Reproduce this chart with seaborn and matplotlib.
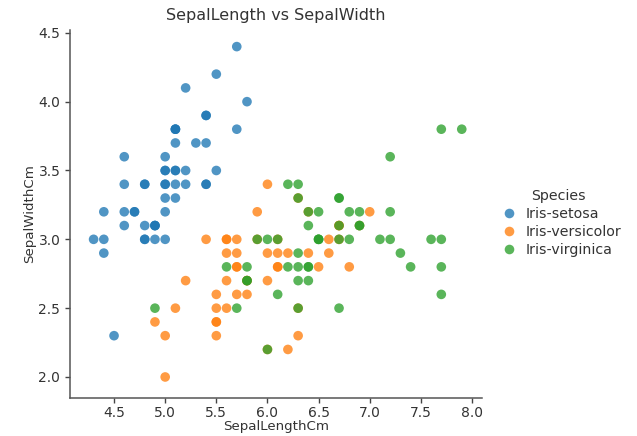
import matplotlib
matplotlib.use("Agg")
import matplotlib.pyplot as plt
import seaborn as sns
import pandas as pd

# Iris sepal measurements, grouped by species
setosa_length = [5.1, 4.9, 4.7, 4.6, 5.0, 5.4, 4.6, 5.0, 4.4, 4.9, 5.4, 4.8, 4.8, 4.3, 5.8, 5.7, 5.4,
                 5.1, 5.7, 5.1, 5.4, 5.1, 4.6, 5.1, 4.8, 5.0, 5.0, 5.2, 5.2, 4.7, 4.8, 5.4, 5.2, 5.5,
                 4.9, 5.0, 5.5, 4.9, 4.4, 5.1, 5.0, 4.5, 4.4, 5.0, 5.1, 4.8, 5.1, 4.6, 5.3, 5.0]
setosa_width = [3.5, 3.0, 3.2, 3.1, 3.6, 3.9, 3.4, 3.4, 2.9, 3.1, 3.7, 3.4, 3.0, 3.0, 4.0, 4.4, 3.9,
                3.5, 3.8, 3.8, 3.4, 3.7, 3.6, 3.3, 3.4, 3.0, 3.4, 3.5, 3.4, 3.2, 3.1, 3.4, 4.1, 4.2,
                3.1, 3.2, 3.5, 3.1, 3.0, 3.4, 3.5, 2.3, 3.2, 3.5, 3.8, 3.0, 3.8, 3.2, 3.7, 3.3]
versicolor_length = [7.0, 6.4, 6.9, 5.5, 6.5, 5.7, 6.3, 4.9, 6.6, 5.2, 5.0, 5.9, 6.0, 6.1, 5.6, 6.7,
                     5.6, 5.8, 6.2, 5.6, 5.9, 6.1, 6.3, 6.1, 6.4, 6.6, 6.8, 6.7, 6.0, 5.7, 5.5, 5.5,
                     5.8, 6.0, 5.4, 6.0, 6.7, 6.3, 5.6, 5.5, 5.5, 6.1, 5.8, 5.0, 5.6, 5.7, 5.7, 6.2,
                     5.1, 5.7]
versicolor_width = [3.2, 3.2, 3.1, 2.3, 2.8, 2.8, 3.3, 2.4, 2.9, 2.7, 2.0, 3.0, 2.2, 2.9, 2.9, 3.1,
                    3.0, 2.7, 2.2, 2.5, 3.2, 2.8, 2.5, 2.8, 2.9, 3.0, 2.8, 3.0, 2.9, 2.6, 2.4, 2.4,
                    2.7, 2.7, 3.0, 3.4, 3.1, 2.3, 3.0, 2.5, 2.6, 3.0, 2.6, 2.3, 2.7, 3.0, 2.9, 2.9,
                    2.5, 2.8]
virginica_length = [6.3, 5.8, 7.1, 6.3, 6.5, 7.6, 4.9, 7.3, 6.7, 7.2, 6.5, 6.4, 6.8, 5.7, 5.8, 6.4,
                    6.5, 7.7, 7.7, 6.0, 6.9, 5.6, 7.7, 6.3, 6.7, 7.2, 6.2, 6.1, 6.4, 7.2, 7.4, 7.9,
                    6.4, 6.3, 6.1, 7.7, 6.3, 6.4, 6.0, 6.9, 6.7, 6.9, 5.8, 6.8, 6.7, 6.7, 6.3, 6.5,
                    6.2, 5.9]
virginica_width = [3.3, 2.7, 3.0, 2.9, 3.0, 3.0, 2.5, 2.9, 2.5, 3.6, 3.2, 2.7, 3.0, 2.5, 2.8, 3.2,
                   3.0, 3.8, 2.6, 2.2, 3.2, 2.8, 2.8, 2.7, 3.3, 3.2, 2.8, 3.0, 2.8, 3.0, 2.8, 3.8,
                   2.8, 2.8, 2.6, 3.0, 3.4, 3.1, 3.0, 3.1, 3.1, 3.1, 2.7, 3.2, 3.3, 3.0, 2.5, 3.0,
                   3.4, 3.0]

species_names = ["Iris-setosa", "Iris-versicolor", "Iris-virginica"]
x_ticks = [4.5, 5.0, 5.5, 6.0, 6.5, 7.0, 7.5, 8.0]
y_ticks = [2.0, 2.5, 3.0, 3.5, 4.0, 4.5]

df = pd.DataFrame({
    "SepalLengthCm": setosa_length + versicolor_length + virginica_length,
    "SepalWidthCm": setosa_width + versicolor_width + virginica_width,
    "Species": ([species_names[0]] * len(setosa_length)
                + [species_names[1]] * len(versicolor_length)
                + [species_names[2]] * len(virginica_length)),
})

sns.set_style("ticks")
plt.rcParams["font.family"] = ["DejaVu Sans"]
text_color = "#333333"

fig = plt.figure(figsize=(6.37, 4.36), dpi=100)
ax = fig.add_axes([0.110, 0.088, 0.647, 0.843])

palette = dict(zip(species_names, sns.color_palette("tab10", 3)))
sns.scatterplot(data=df, x="SepalLengthCm", y="SepalWidthCm", hue="Species",
                hue_order=species_names, palette=palette, s=48, alpha=0.78,
                linewidth=0, ax=ax)

ax.set_xlim(4.07, 8.1)
ax.set_ylim(1.85, 4.52)
ax.set_xticks(x_ticks)
ax.set_yticks(y_ticks)
ax.set_xticklabels([f"{t:.1f}" for t in x_ticks])
ax.set_yticklabels([f"{t:.1f}" for t in y_ticks])
ax.tick_params(labelsize=10, colors="#444444", labelcolor=text_color, length=3.5, width=1)
ax.tick_params(axis="x", pad=2.5)
for side in ("top", "right"):
    ax.spines[side].set_visible(False)
for side in ("left", "bottom"):
    ax.spines[side].set_color("#555555")
    ax.spines[side].set_linewidth(1.1)

ax.set_xlabel("SepalLengthCm", fontsize=9.6, color=text_color, labelpad=0)
ax.set_ylabel("SepalWidthCm", fontsize=9.6, color=text_color, labelpad=2)
ax.set_title("SepalLength vs SepalWidth", fontsize=11.5, color=text_color, pad=7)

handles, labels = ax.get_legend_handles_labels()
ax.legend_.remove()
leg = fig.legend(handles, labels, title="Species", loc="center left",
                 bbox_to_anchor=(0.757, 0.488), frameon=False, fontsize=10.2,
                 title_fontsize=10.2, handletextpad=0.15, labelspacing=0.28,
                 markerscale=1.0)
for t in leg.get_texts():
    t.set_color(text_color)
leg.get_title().set_color(text_color)

fig.savefig("out.png", dpi=100)
